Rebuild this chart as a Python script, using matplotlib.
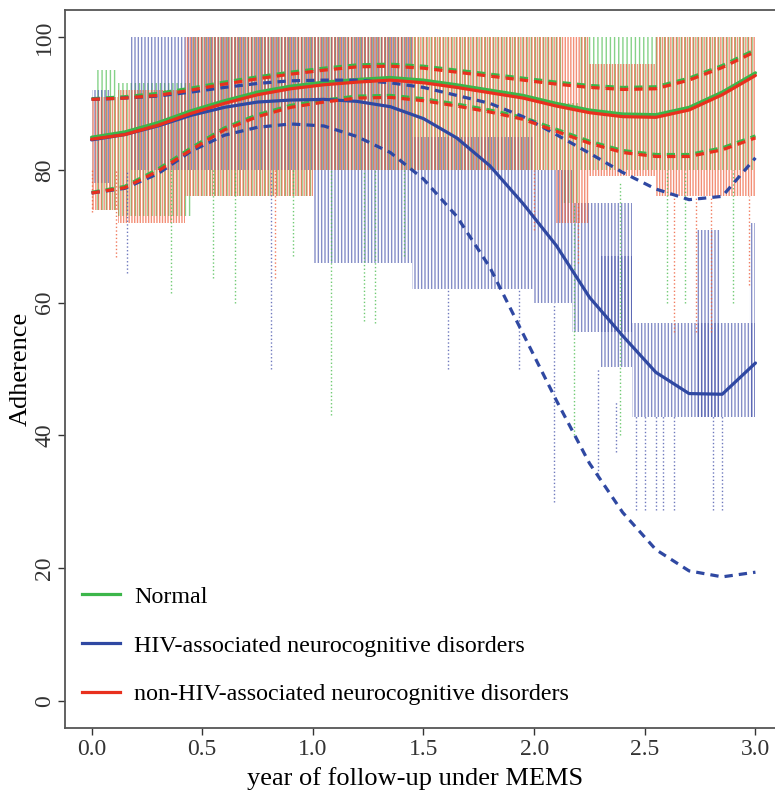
import matplotlib
matplotlib.use("Agg")
import matplotlib.pyplot as plt
from matplotlib.lines import Line2D

plt.rcParams['font.family'] = ['Liberation Serif', 'DejaVu Serif']
plt.rcParams['hatch.linewidth'] = 1.0

# time grid of the fitted curves (years)
years = [0.0, 0.15, 0.3, 0.45, 0.6, 0.75, 0.9, 1.05, 1.2, 1.35, 1.5,
         1.65, 1.8, 1.95, 2.1, 2.25, 2.4, 2.55, 2.7, 2.85, 3.0]

# Normal
normal_mean = [84.9, 85.7, 87.1, 88.9, 90.4, 91.7, 92.6, 93.2, 93.6, 93.9, 93.5,
               92.8, 92.0, 91.2, 90.0, 89.0, 88.4, 88.3, 89.4, 91.7, 94.6]
normal_upper = [90.7, 91.0, 91.5, 92.3, 93.2, 94.0, 94.7, 95.3, 95.8, 95.9, 95.6,
                95.0, 94.4, 93.8, 93.2, 92.7, 92.4, 92.5, 93.8, 95.7, 98.1]
normal_lower = [76.6, 77.5, 80.1, 83.3, 86.3, 88.3, 89.7, 90.5, 91.1, 91.2, 90.7,
                89.9, 89.0, 87.9, 86.1, 84.3, 82.9, 82.3, 82.3, 83.3, 85.1]

# HIV-associated neurocognitive disorders
hand_mean = [84.5, 85.3, 86.6, 88.2, 89.4, 90.2, 90.5, 90.6, 90.3, 89.5, 87.7,
             84.8, 80.6, 74.9, 68.6, 60.8, 55.0, 49.5, 46.3, 46.2, 50.9]
hand_upper = [90.6, 90.8, 91.1, 91.7, 92.4, 93.0, 93.4, 93.5, 93.5, 93.1, 92.4,
              91.2, 90.0, 88.0, 85.3, 82.5, 79.6, 77.1, 75.5, 76.0, 81.8]
hand_lower = [76.5, 77.2, 79.4, 82.8, 85.2, 86.4, 86.9, 86.6, 85.0, 82.6, 78.6,
              73.0, 65.3, 55.3, 45.3, 35.8, 28.4, 22.8, 19.6, 18.7, 19.4]

# non-HIV-associated neurocognitive disorders
nonhand_mean = [84.6, 85.3, 86.7, 88.5, 90.0, 91.3, 92.2, 92.8, 93.2, 93.5, 93.1,
                92.4, 91.6, 90.8, 89.6, 88.6, 88.0, 87.9, 89.0, 91.3, 94.2]
nonhand_upper = [90.6, 90.8, 91.2, 92.0, 92.9, 93.7, 94.4, 95.0, 95.5, 95.6, 95.3,
                 94.7, 94.1, 93.5, 92.9, 92.4, 92.1, 92.2, 93.5, 95.4, 97.8]
nonhand_lower = [76.5, 77.3, 79.8, 83.0, 86.0, 88.0, 89.4, 90.2, 90.8, 90.9, 90.4,
                 89.6, 88.7, 87.6, 85.8, 84.0, 82.6, 82.0, 82.0, 83.0, 84.8]

# individual trajectories, summarised as dense blocks (x0, x1, low, high)
normal_blocks = [(0.02, 0.12, 74, 95), (0.12, 0.45, 73, 93), (0.45, 1.0, 76, 100),
                 (1.0, 2.12, 80, 100), (2.12, 2.2, 75, 90), (2.2, 3.0, 80, 100)]
nonhand_blocks = [(0.0, 0.12, 74, 91), (0.12, 0.42, 72, 92), (0.42, 1.0, 76, 100),
                  (1.0, 2.1, 80, 100), (2.1, 2.25, 72, 100), (2.25, 2.55, 79, 96),
                  (2.55, 3.0, 76, 100)]
hand_blocks = [(0.0, 0.08, 78, 92), (0.18, 0.4, 80, 100), (0.4, 1.0, 80, 100),
               (1.0, 1.45, 66, 100), (1.45, 2.0, 62, 85), (2.0, 2.17, 60, 80),
               (2.17, 2.44, 55.6, 75), (2.3, 2.44, 50.3, 67), (2.44, 3.0, 42.8, 57),
               (2.73, 2.84, 42.8, 71), (2.97, 3.0, 42.8, 72)]

# single long drops (x, low, high)
normal_spikes = [(0.36, 61.4, 80), (0.55, 63.7, 80), (0.65, 60.0, 80), (0.91, 67, 80),
                 (1.08, 43, 80), (1.23, 57.2, 80), (1.28, 57, 80), (1.41, 67, 80),
                 (2.18, 40, 75), (2.39, 40, 78), (2.6, 60, 80), (2.68, 60, 80),
                 (2.9, 60, 80)]
nonhand_spikes = [(0.0, 73.6, 80), (0.11, 66.9, 80), (0.83, 63.7, 80), (2.0, 71, 80),
                  (2.2, 66, 75), (2.63, 55.6, 76), (2.73, 55.6, 76), (2.80, 55.6, 76),
                  (2.97, 62.6, 76)]
hand_spikes = [(0.16, 64.5, 80), (0.81, 50, 80), (1.61, 50, 62), (1.93, 50, 62),
               (2.09, 30, 60), (2.29, 33.6, 50), (2.37, 37.5, 45), (2.46, 28.8, 43),
               (2.5, 28.8, 43), (2.55, 28.8, 43), (2.58, 28.8, 43), (2.63, 28.8, 43),
               (2.81, 28.8, 43), (2.85, 28.8, 43)]

x_ticks = [0.0, 0.5, 1.0, 1.5, 2.0, 2.5, 3.0]
y_ticks = [0, 20, 40, 60, 80, 100]

groups = [
    ('Normal', '#3cb64a', '#4cbd50', '||||', normal_blocks, normal_spikes,
     normal_mean, normal_upper, normal_lower),
    ('HIV-associated neurocognitive disorders', '#2f48a2', '#4b58ad', '|||||',
     hand_blocks, hand_spikes, hand_mean, hand_upper, hand_lower),
    ('non-HIV-associated neurocognitive disorders', '#e8301e', '#ee5a36', '||||||',
     nonhand_blocks, nonhand_spikes, nonhand_mean, nonhand_upper, nonhand_lower),
]

fig = plt.figure(figsize=(7.75, 7.91), dpi=100)
ax = fig.add_axes([65 / 775, 63.4 / 791, 717 / 775, 717.2 / 791])

# spaghetti first
for name, line_c, thin_c, hatch, blocks, spikes, m, up, lo in groups:
    for x0, x1, b, t in blocks:
        ax.fill_between([x0, x1], [b, b], [t, t], facecolor='none',
                        edgecolor=thin_c, hatch=hatch, linewidth=0, alpha=0.68)
    for x, b, t in spikes:
        ax.vlines(x, b, t, colors=thin_c, linestyles=':', linewidth=1.0, alpha=0.8)

# fitted curves with confidence limits
for name, line_c, thin_c, hatch, blocks, spikes, m, up, lo in groups:
    ax.plot(years, m, color=line_c, lw=2.3, solid_capstyle='round')
    ax.plot(years, up, color=line_c, lw=2.3, linestyle=(0, (2.6, 1.9)))
    ax.plot(years, lo, color=line_c, lw=2.3, linestyle=(0, (2.6, 1.9)))

ax.set_xlim(-0.12, 3.12)
ax.set_ylim(-4, 104)
ax.set_xticks(x_ticks)
ax.set_xticklabels([f'{v:.1f}' for v in x_ticks])
ax.set_yticks(y_ticks)
ax.set_yticklabels([str(v) for v in y_ticks], rotation=90, va='center')
ax.tick_params(direction='out', length=5, width=1, colors='#333333', labelsize=17)
ax.tick_params(axis='x', pad=3)
ax.tick_params(axis='y', pad=2)
for s in ax.spines.values():
    s.set_color('#555555')
    s.set_linewidth(1.3)

ax.set_xlabel('year of follow-up under MEMS', fontsize=19, labelpad=5, x=0.488)
ax.set_ylabel('Adherence', fontsize=19, labelpad=2)

handles = [Line2D([0], [0], color=g[1], lw=2.3) for g in groups]
ax.legend(handles, [g[0] for g in groups], loc='upper left',
          bbox_to_anchor=(82 / 775, 1 - 586 / 791), bbox_transform=fig.transFigure,
          frameon=False, fontsize=17.3, handlelength=1.58, handletextpad=0.6,
          labelspacing=1.12, borderpad=0, borderaxespad=0)

fig.savefig('out.png', dpi=100)
